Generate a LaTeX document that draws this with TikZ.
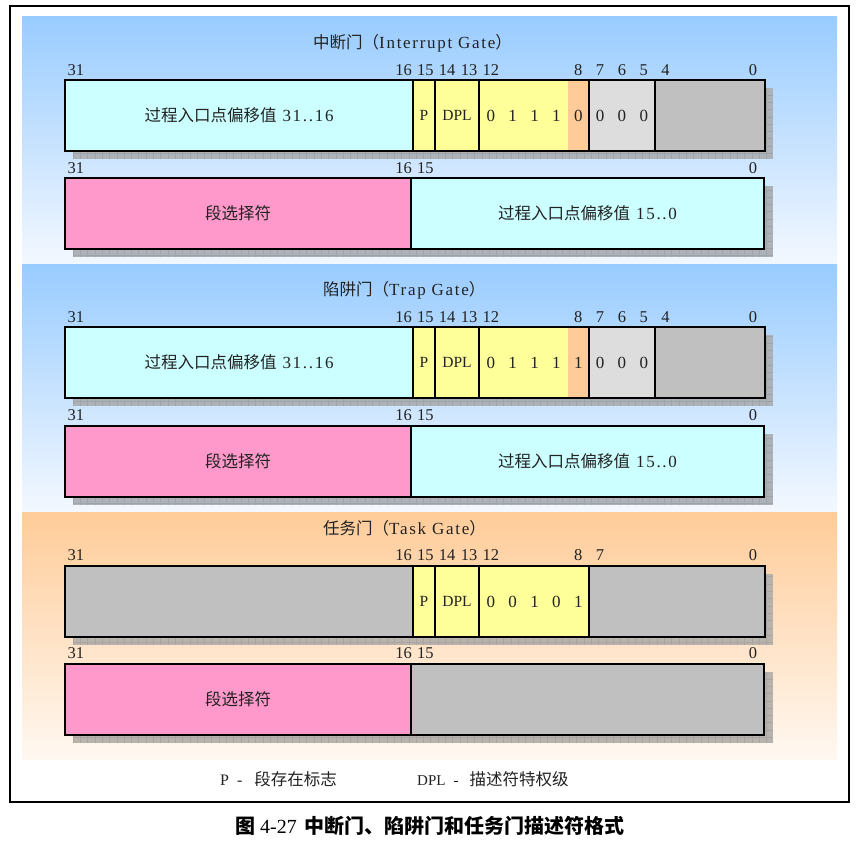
\documentclass[tikz,border=0pt]{standalone}
\usepackage{fontspec}
\setmainfont{Liberation Serif}
\newfontfamily\cjk{Noto Sans CJK SC}
\newfontfamily\wsp[LetterSpace=10]{Liberation Serif}
\definecolor{cyanb}{HTML}{CCFFFF}
\definecolor{pinkb}{HTML}{FF99CC}
\definecolor{yelb}{HTML}{FFFF99}
\definecolor{orab}{HTML}{FFCC99}
\definecolor{lgray}{HTML}{DDDDDD}
\definecolor{dgray}{HTML}{C0C0C0}
\definecolor{bluetop}{HTML}{99CCFF}
\definecolor{bluebot}{HTML}{F3F8FF}
\definecolor{oratop}{HTML}{FFCC99}
\definecolor{orabot}{HTML}{FFF8F1}
\definecolor{shb}{HTML}{ADB2B8}
\definecolor{sho}{HTML}{B9B3AE}
\definecolor{txt}{HTML}{222222}
\newcommand\bx[1]{(65+(31.5-#1)*21.84)}
\newcommand\cj{\cjk\fontsize{16.5}{18}\selectfont}
\newcommand\shd[2]{%
  \fill[#2] (73,#1+8) rectangle (773,#1+79);
  \begin{scope}
    \clip (73,#1+8) rectangle (773,#1+79);
    \draw[#2!92!black, line width=0.5pt, step=7.3pt] (73,#1+8) grid (773,#1+79);
  \end{scope}}
\newcommand\fld[6]{\node[fld,fill=#5,minimum width={(#3-#2)*1pt},minimum height=71pt] (#1) at ({(#2+#3)/2},{#4+35.5}) {#6};}
\newcommand\lbls[2]{\foreach \b in {#2} {\node[bitlbl] (lb-\b-#1) at ({\bx{\b}},#1) {\b};}}
\begin{document}
\begin{tikzpicture}[x=1pt,y=-1pt,
  fld/.style={draw=black,line width=2pt,inner sep=0pt,outer sep=0pt,text=txt,font=\fontsize{17}{18}\selectfont},
  bitlbl/.style={inner sep=0pt,text=txt,font=\fontsize{16.5}{18}\selectfont},
  bitv/.style={inner sep=0pt,text=txt,font=\fontsize{17}{18}\selectfont},
  ttl/.style={anchor=west,inner sep=0pt,text=txt,font=\fontsize{17}{18}\selectfont}]
\useasboundingbox (0,0) rectangle (858,841);
\fill[white] (0,0) rectangle (858,841);
% panels
\shade[top color=bluetop,bottom color=bluebot] (22,16) rectangle (837,264);
\shade[top color=bluetop,bottom color=bluebot] (22,264) rectangle (837,511);
\shade[top color=oratop,bottom color=orabot] (22,512) rectangle (837,759);
\draw[line width=2pt] (9.5,6) rectangle (848.5,802);

% ===== Interrupt gate =====
\node[ttl] (t1) at (313,43) {{\cj 中断门（}{\wsp Interrupt Gate}{\cj ）}};
\shd{80}{shb}
\fld{i1off}{65}{413}{80}{cyanb}{{\cj 过程入口点偏移值}\hspace{6pt}{\wsp 31..16}}
\fld{i1p}{413}{435}{80}{yelb}{\fontsize{15.5}{18}\selectfont P}
\fld{i1dpl}{435}{479}{80}{yelb}{\fontsize{15.5}{18}\selectfont DPL}
\fld{i1typ}{479}{589}{80}{yelb}{}
\fill[orab] (568,81) rectangle (588,150);
\fld{i1z}{589}{655}{80}{lgray}{}
\fld{i1r}{655}{765}{80}{dgray}{}
\foreach \b/\v in {12/0,11/1,10/1,9/1,8/0,7/0,6/0,5/0} {\node[bitv] (i1v\b) at ({\bx{\b}},115.5) {\v};}
\lbls{70}{31,16,15,14,13,12,8,7,6,5,4,0}
\shd{178}{shb}
\fld{i2sel}{65}{411}{178}{pinkb}{\cj 段选择符}
\fld{i2off}{411}{764}{178}{cyanb}{{\cj 过程入口点偏移值}\hspace{6pt}{\wsp 15..0}}
\lbls{168}{31,16,15,0}

% ===== Trap gate =====
\node[ttl] (t2) at (323,290) {{\cj 陷阱门（}{\wsp Trap Gate}{\cj ）}};
\shd{327}{shb}
\fld{r1off}{65}{413}{327}{cyanb}{{\cj 过程入口点偏移值}\hspace{6pt}{\wsp 31..16}}
\fld{r1p}{413}{435}{327}{yelb}{\fontsize{15.5}{18}\selectfont P}
\fld{r1dpl}{435}{479}{327}{yelb}{\fontsize{15.5}{18}\selectfont DPL}
\fld{r1typ}{479}{589}{327}{yelb}{}
\fill[orab] (568,328) rectangle (588,397);
\fld{r1z}{589}{655}{327}{lgray}{}
\fld{r1r}{655}{765}{327}{dgray}{}
\foreach \b/\v in {12/0,11/1,10/1,9/1,8/1,7/0,6/0,5/0} {\node[bitv] (r1v\b) at ({\bx{\b}},362.5) {\v};}
\lbls{317}{31,16,15,14,13,12,8,7,6,5,4,0}
\shd{426}{shb}
\fld{r2sel}{65}{411}{426}{pinkb}{\cj 段选择符}
\fld{r2off}{411}{764}{426}{cyanb}{{\cj 过程入口点偏移值}\hspace{6pt}{\wsp 15..0}}
\lbls{415}{31,16,15,0}

% ===== Task gate =====
\node[ttl] (t3) at (323,528) {{\cj 任务门（}{\wsp Task Gate}{\cj ）}};
\shd{566}{sho}
\fld{k1res}{65}{413}{566}{dgray}{}
\fld{k1p}{413}{435}{566}{yelb}{\fontsize{15.5}{18}\selectfont P}
\fld{k1dpl}{435}{479}{566}{yelb}{\fontsize{15.5}{18}\selectfont DPL}
\fld{k1typ}{479}{589}{566}{yelb}{}
\fld{k1r}{589}{765}{566}{dgray}{}
\foreach \b/\v in {12/0,11/0,10/1,9/0,8/1} {\node[bitv] (k1v\b) at ({\bx{\b}},601.5) {\v};}
\lbls{555}{31,16,15,14,13,12,8,7,0}
\shd{664}{sho}
\fld{k2sel}{65}{411}{664}{pinkb}{\cj 段选择符}
\fld{k2r}{411}{764}{664}{dgray}{}
\lbls{653}{31,16,15,0}

% legend and caption
\node[anchor=west,inner sep=0pt,text=txt,font=\fontsize{16}{18}\selectfont] (legp) at (220,779) {P\hspace{8pt}-\hspace{12pt}{\cj 段存在标志}};
\node[anchor=west,inner sep=0pt,text=txt,font=\fontsize{15}{18}\selectfont] (legd) at (417,779) {DPL\hspace{8pt}-\hspace{11pt}{\cj 描述符特权级}};
\node[inner sep=0pt,font=\fontsize{20}{22}\selectfont] (cap) at (430,826) {{\cjk\bfseries 图}\hspace{5pt}4-27\hspace{8pt}{\cjk\bfseries 中断门、陷阱门和任务门描述符格式}};
\end{tikzpicture}
\end{document}
